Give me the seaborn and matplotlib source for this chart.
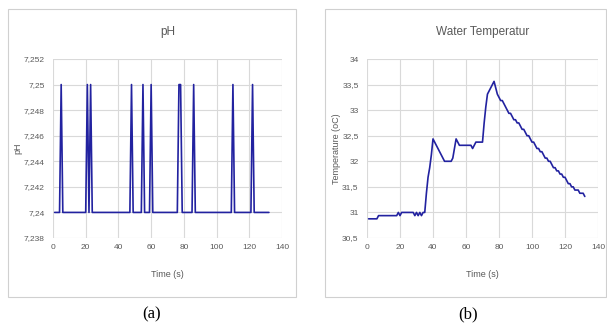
import numpy as np
import pandas as pd
import matplotlib
matplotlib.use("Agg")
import matplotlib.pyplot as plt
from matplotlib.patches import Rectangle
import seaborn as sns

# ---------------------------------------------------------------
# DATA
# ---------------------------------------------------------------
time_s = list(range(1, 133))

# seconds where pH jumps to 7.25; elsewhere it sits at 7.24
ph_spike_times = [5, 21, 23, 48, 55, 60, 77, 78, 86, 110, 122]
ph_low, ph_high = 7.24, 7.25
ph_values = [ph_high if t in ph_spike_times else ph_low for t in time_s]

temp_values = [
    30.875, 30.875, 30.875, 30.875, 30.875, 30.875,                      # 1-6
    30.9375, 30.9375, 30.9375, 30.9375, 30.9375, 30.9375,                # 7-12
    30.9375, 30.9375, 30.9375, 30.9375, 30.9375, 30.9375,                # 13-18
    31.0, 30.9375, 31.0, 31.0, 31.0, 31.0, 31.0, 31.0, 31.0, 31.0,       # 19-28
    30.9375, 31.0, 30.9375, 31.0, 30.9375, 31.0, 31.0,                   # 29-35
    31.375, 31.6875, 31.875, 32.125, 32.4375,                            # 36-40
    32.375, 32.3125, 32.25, 32.1875, 32.125, 32.0625, 32.0,              # 41-47
    32.0, 32.0, 32.0, 32.0, 32.0625, 32.25, 32.4375,                     # 48-54
    32.375, 32.3125, 32.3125, 32.3125, 32.3125, 32.3125, 32.3125,        # 55-61
    32.3125, 32.3125, 32.25, 32.3125, 32.375, 32.375, 32.375, 32.375,    # 62-69
    32.375, 32.75, 33.0625, 33.3125, 33.375, 33.4375, 33.5, 33.5625,     # 70-77
    33.4375, 33.3125, 33.25, 33.1875, 33.1875, 33.125, 33.0625, 33.0,    # 78-85
    32.9375, 32.9375, 32.875, 32.8125, 32.8125, 32.75, 32.75, 32.6875,   # 86-93
    32.625, 32.625, 32.5625, 32.5, 32.5, 32.4375, 32.375, 32.375,        # 94-101
    32.3125, 32.25, 32.25, 32.1875, 32.1875, 32.125, 32.0625, 32.0625,   # 102-109
    32.0, 32.0, 31.9375, 31.875, 31.875, 31.8125, 31.8125, 31.75,        # 110-117
    31.75, 31.6875, 31.6875, 31.625, 31.5625, 31.5625, 31.5, 31.5,       # 118-125
    31.4375, 31.4375, 31.4375, 31.375, 31.375, 31.375, 31.3125,          # 126-132
]

x_ticks = [0, 20, 40, 60, 80, 100, 120, 140]
ph_ticks = [7.238, 7.24, 7.242, 7.244, 7.246, 7.248, 7.25, 7.252]
ph_tick_labels = ["7,238", "7,24", "7,242", "7,244", "7,246", "7,248", "7,25", "7,252"]
temp_ticks = [30.5, 31, 31.5, 32, 32.5, 33, 33.5, 34]
temp_tick_labels = ["30,5", "31", "31,5", "32", "32,5", "33", "33,5", "34"]

df_ph = pd.DataFrame({"time": time_s, "ph": ph_values})
df_temp = pd.DataFrame({"time": time_s, "temp": temp_values})

# ---------------------------------------------------------------
# STYLE
# ---------------------------------------------------------------
sns.set_style("whitegrid", {"grid.color": "#d9d9d9"})
plt.rcParams['font.family'] = ['Liberation Sans', 'DejaVu Sans']

LINE = "#2222a0"
TXT = "#595959"

W, H = 607, 324
fig = plt.figure(figsize=(W / 100, H / 100), dpi=100)
fig.patch.set_facecolor("white")

# chart-area frames (Excel style)
fig.add_artist(Rectangle((8 / W, 1 - 297 / H), 288 / W, 288 / H, transform=fig.transFigure,
                         fill=False, edgecolor="#d0d0d0", linewidth=0.8))
fig.add_artist(Rectangle((325 / W, 1 - 297 / H), 281 / W, 288 / H, transform=fig.transFigure,
                         fill=False, edgecolor="#d0d0d0", linewidth=0.8))

ax1 = fig.add_axes([53 / W, 1 - 238 / H, 229 / W, 179 / H])
ax2 = fig.add_axes([367 / W, 1 - 238 / H, 231 / W, 179 / H])


def style_axes(ax, title, ylabel, yticks, ylabels):
    ax.set_xlim(0, 140)
    ax.set_xticks(x_ticks)
    ax.set_xticklabels([str(v) for v in x_ticks])
    ax.set_ylim(yticks[0], yticks[-1])
    ax.set_yticks(yticks)
    ax.set_yticklabels(ylabels)
    ax.tick_params(axis="both", labelsize=6, colors=TXT, length=0)
    ax.tick_params(axis="x", pad=4)
    ax.tick_params(axis="y", pad=6)
    for s in ax.spines.values():
        s.set_visible(False)
    ax.grid(True, color="#d9d9d9", linewidth=0.8)
    ax.set_title(title, fontsize=8.5, color=TXT, pad=17)
    ax.set_xlabel("Time (s)", fontsize=6.5, color=TXT, labelpad=14)
    ax.set_ylabel(ylabel, fontsize=6.5, color=TXT, labelpad=1)


sns.lineplot(data=df_ph, x="time", y="ph", ax=ax1, color=LINE, linewidth=1.2)
style_axes(ax1, "pH", "pH", ph_ticks, ph_tick_labels)

sns.lineplot(data=df_temp, x="time", y="temp", ax=ax2, color=LINE, linewidth=1.2)
style_axes(ax2, "Water Temperatur", "Temperature (oC)", temp_ticks, temp_tick_labels)

fig.text(152 / W, 1 - 314 / H, "(a)", ha="center", va="center",
         fontsize=12, family=["Liberation Serif", "DejaVu Serif"], color="black")
fig.text(468 / W, 1 - 314 / H, "(b)", ha="center", va="center",
         fontsize=12, family=["Liberation Serif", "DejaVu Serif"], color="black")

plt.savefig("out.png", dpi=100, facecolor="white")
